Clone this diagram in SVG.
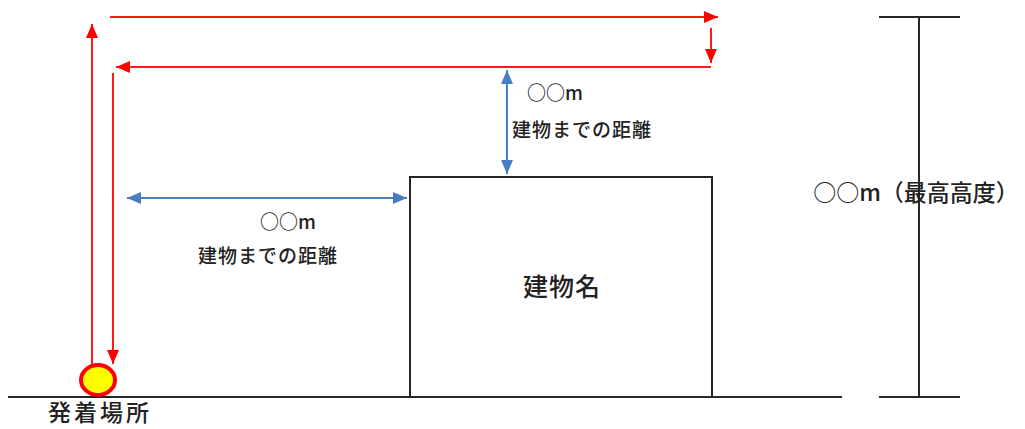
<svg xmlns="http://www.w3.org/2000/svg" width="1025" height="429" viewBox="0 0 1025 429">
<style>
.txt{font-family:"Noto Sans CJK JP","Noto Sans",sans-serif;fill:#222;font-weight:500}
.blk{stroke:#262626;stroke-width:2;fill:none}
.red{stroke:#FF1A1A;stroke-width:2;fill:none}
.blue{stroke:#4A7CC4;stroke-width:2;fill:none}
</style>
<defs>
<marker id="ar" viewBox="0 0 14 12" refX="14" refY="6" markerWidth="14" markerHeight="12" markerUnits="userSpaceOnUse" orient="auto">
<path d="M0,0 L14,6 L0,12 z" fill="#FF0000"/>
</marker>
<marker id="ab" viewBox="0 0 14 12" refX="14" refY="6" markerWidth="14" markerHeight="12" markerUnits="userSpaceOnUse" orient="auto-start-reverse">
<path d="M0,0 L14,6 L0,12 z" fill="#4A7CC4"/>
</marker>
</defs>
<rect width="1025" height="429" fill="#fff"/>
<g id="ground">
<line class="blk" x1="8" y1="397" x2="842" y2="397"/>
</g>
<g id="building">
<rect class="blk" x="410" y="177" width="302" height="220"/>
<text class="txt" x="562" y="296" font-size="25" text-anchor="middle" letter-spacing="1">建物名</text>
</g>
<g id="height">
<line class="blk" x1="879" y1="17" x2="960" y2="17"/>
<line class="blk" x1="879" y1="397" x2="960" y2="397"/>
<line class="blk" x1="919" y1="17" x2="919" y2="397"/>
<text class="txt" x="916" y="201" font-size="23" text-anchor="middle">○○m（最高高度）</text>
</g>
<g id="site">
<ellipse cx="98" cy="380" rx="17" ry="15" fill="#FFFF00" stroke="#FF0000" stroke-width="4"/>
<text class="txt" x="100" y="421" font-size="23" text-anchor="middle" letter-spacing="3">発着場所</text>
</g>
<g id="connectors">
<line class="red" x1="92" y1="364" x2="92" y2="24" marker-end="url(#ar)"/>
<line class="red" x1="110" y1="17" x2="718" y2="17" marker-end="url(#ar)"/>
<line class="red" x1="711" y1="28" x2="711" y2="63" marker-end="url(#ar)"/>
<line class="red" x1="711" y1="67" x2="116" y2="67" marker-end="url(#ar)"/>
<line class="red" x1="113" y1="73" x2="113" y2="364" marker-end="url(#ar)"/>
<line class="blue" x1="127" y1="198" x2="407" y2="198" marker-start="url(#ab)" marker-end="url(#ab)"/>
<line class="blue" x1="507" y1="70" x2="507" y2="174" marker-start="url(#ab)" marker-end="url(#ab)"/>
</g>
<g id="labels">
<text class="txt" x="288" y="229" font-size="19" text-anchor="middle">○○m</text>
<text class="txt" x="268" y="263" font-size="19" text-anchor="middle" letter-spacing="1">建物までの距離</text>
<text class="txt" x="527" y="100" font-size="19">○○m</text>
<text class="txt" x="512" y="137" font-size="19" letter-spacing="1">建物までの距離</text>
</g>
</svg>
